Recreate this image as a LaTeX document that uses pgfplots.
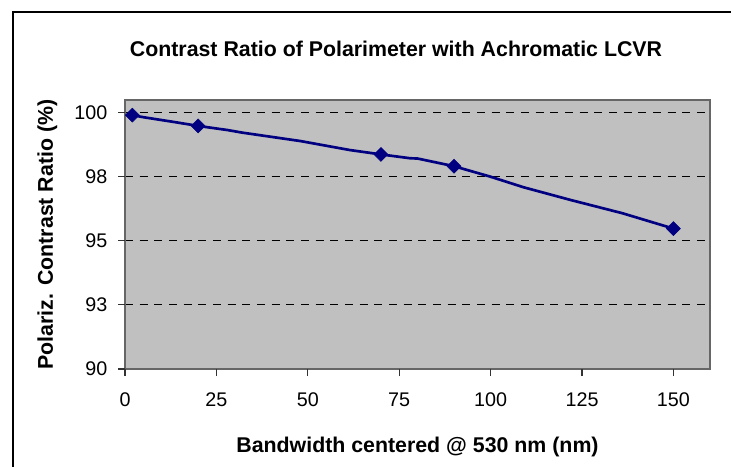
\documentclass[border=0pt]{standalone}
\usepackage{fontspec}
\setmainfont{Liberation Sans}
\usepackage{pgfplots}
\pgfplotsset{compat=1.18}
\definecolor{plotgray}{RGB}{192,192,192}
\definecolor{navyline}{RGB}{0,0,128}
\begin{document}
\begin{tikzpicture}
\useasboundingbox (0pt,0pt) rectangle (548.25pt,350.25pt);
\draw[line width=1.4pt] (9.75pt,0pt) -- (9.75pt,341.25pt) -- (548.25pt,341.25pt);
\node[font=\fontsize{16}{19}\selectfont\bfseries, anchor=base] at (297pt,307.9pt) {Contrast Ratio of Polarimeter with Achromatic LCVR};
\begin{axis}[
  at={(93.75pt,73.5pt)}, anchor=south west,
  scale only axis, width=438.75pt, height=201.75pt,
  xmin=0, xmax=160, ymin=90, ymax=100.48,
  xtick={0,25,50,75,100,125,150},
  ytick={90,92.5,95,97.5,100},
  yticklabels={90,93,95,98,100},
  xtick pos=bottom, ytick pos=left,
  tick align=outside,
  major tick length=5.25pt,
  major tick style={draw=black!80, line width=0.9pt},
  xticklabel shift=9pt,
  yticklabel shift=4.5pt,
  ymajorgrids,
  grid style={black, dash pattern=on 6pt off 5pt, line width=0.75pt},
  axis background/.style={fill=plotgray},
  axis line style={black!60, line width=0.9pt},
  /pgf/number format/assume math mode=true,
  ticklabel style={font=\fontsize{14.8}{17}\selectfont},
  xlabel={Bandwidth centered @ 530 nm (nm)},
  ylabel={Polariz. Contrast Ratio (\%)},
  label style={font=\fontsize{16}{19}\selectfont\bfseries},
  xlabel style={at={(axis description cs:0.5,-0.3086)}, anchor=base},
  ylabel style={at={(axis description cs:-0.1231,0.5)}, anchor=base},
  clip=false,
]
\addplot[navyline, line width=2pt] coordinates {
 (2,99.89) (5,99.81) (14,99.61) (20,99.47) (28,99.31) (32,99.21)
 (48,98.88) (61.5,98.53) (70,98.36) (78,98.21) (80,98.20) (84,98.08)
 (90,97.90) (100,97.49) (109,97.08) (122,96.58) (136,96.07) (150,95.47)
};
\addplot[only marks, mark=square*, mark size=3.7pt,
  mark options={rotate=45, fill=navyline, draw=navyline}] coordinates {
 (2,99.89) (20,99.47) (70,98.36) (90,97.90) (150,95.47)
};
\pgfplotsinvokeforeach{0,25,50,75,100,125,150}{
  \draw[black!80, line width=0.9pt] (axis cs:#1,90) -- ++(0pt,-5.25pt);
}
\pgfplotsinvokeforeach{90,92.5,95,97.5,100}{
  \draw[black!80, line width=0.9pt] (axis cs:0,#1) -- ++(-5.25pt,0pt);
}
\end{axis}
\end{tikzpicture}
\end{document}
